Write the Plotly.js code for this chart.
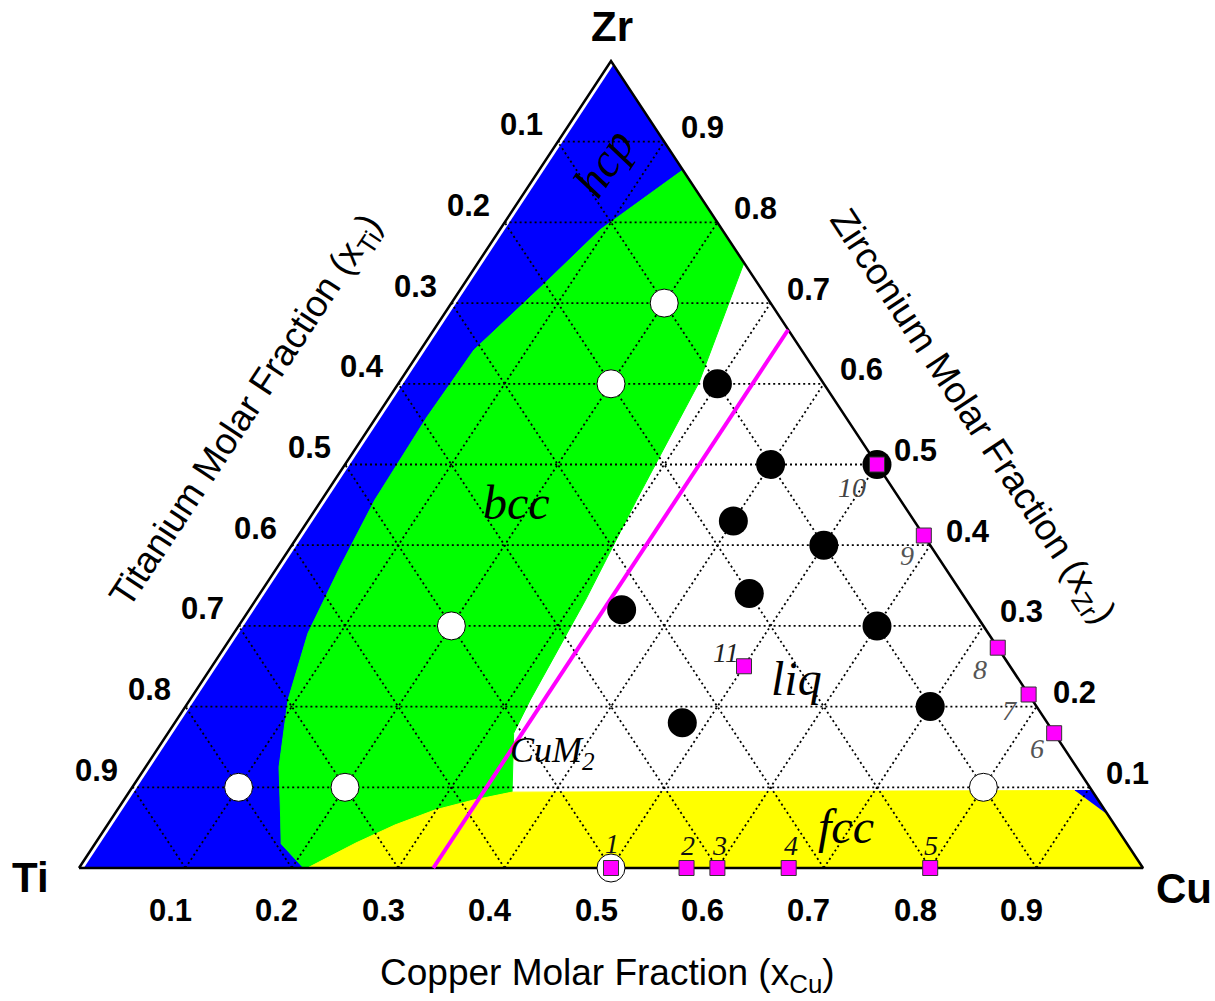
<!DOCTYPE html>
<html>
<head>
<meta charset="utf-8">
<script src="https://cdn.plot.ly/plotly-3.0.1.min.js"></script>
<style>html,body{margin:0;padding:0;background:#fff;}#chart{width:1215px;height:1001px;}</style>
</head>
<body>
<div id="chart"></div>
<script>
// ---- Data (ternary compositions given as molar fractions xCu, xZr; xTi = 1 - xCu - xZr) ----
const tickValues = [0.1, 0.2, 0.3, 0.4, 0.5, 0.6, 0.7, 0.8, 0.9];
const tickText = ['0.1', '0.2', '0.3', '0.4', '0.5', '0.6', '0.7', '0.8', '0.9'];

// hcp / bcc boundary (from Ti-Cu edge up to Cu-Zr edge)
const hcpBccCu = [0.211, 0.175, 0.158, 0.1255, 0.0924, 0.0697, 0.0588, 0.050, 0.0476, 0.0502, 0.0756, 0.0944, 0.135];
const hcpBccZr = [0.000, 0.030, 0.063, 0.125, 0.208, 0.291, 0.373, 0.456, 0.559, 0.642, 0.725, 0.791, 0.865];
// bcc / liquid boundary (from Cu-Zr edge downwards)
const bccLiqCu = [0.250, 0.282, 0.296, 0.310, 0.320, 0.325, 0.360];
const bccLiqZr = [0.750, 0.601, 0.456, 0.332, 0.208, 0.167, 0.094];
// bcc / fcc boundary (from Ti-Cu edge upwards)
const bccFccCu = [0.2147, 0.2448, 0.2703, 0.2986, 0.329, 0.360];
const bccFccZr = [0.000, 0.031, 0.0533, 0.0719, 0.0843, 0.094];
// top of the fcc field
const fccTopCu = [0.600, 0.888];
const fccTopZr = [0.095, 0.096];
// small hcp spot at the Cu-rich corner
const hcpSpotCu = [0.888, 0.904, 0.934];
const hcpSpotZr = [0.096, 0.096, 0.066];
// fcc field lower right end along the Cu-Zr edge
const fccEdgeCu = [0.934, 1.0];
const fccEdgeZr = [0.066, 0.0];
// CuM2 line
const cuM2Cu = [0.333, 0.333];
const cuM2Zr = [0.000, 0.667];

// filled black circles
const blackCu = [0.30, 0.40, 0.50, 0.40, 0.50, 0.46, 0.35, 0.60, 0.477, 0.70];
const blackZr = [0.60, 0.50, 0.50, 0.43, 0.40, 0.34, 0.32, 0.30, 0.18, 0.20];
// open (white) circles
const whiteCu = [0.20, 0.20, 0.20, 0.10, 0.20, 0.80, 0.50];
const whiteZr = [0.70, 0.60, 0.30, 0.10, 0.10, 0.10, 0.00];
// magenta squares (binary / ternary compounds)
const compoundCu = [0.500, 0.571, 0.600, 0.667, 0.800, 0.833, 0.785, 0.727, 0.588, 0.500, 0.500];
const compoundZr = [0.000, 0.000, 0.000, 0.000, 0.000, 0.167, 0.215, 0.273, 0.412, 0.500, 0.250];
const compoundLabels = ['1', '2', '3', '4', '5', '6', '7', '8', '9', '10', '11'];

// ---- projection through the cartesian axes ----
function X(cu, zr) { return cu + zr / 2; }
function xs(cu, zr) { return cu.map((c, i) => c === null ? null : X(c, zr[i])); }
function ys(cu, zr) { return zr.slice(); }

function poly(cu, zr, color) {
  return {type: 'scatter', mode: 'lines', x: xs(cu, zr), y: ys(cu, zr), fill: 'toself',
          fillcolor: color, line: {color: color, width: 1, shape: 'spline', smoothing: 0.6}, hoverinfo: 'skip'};
}
function polyStraight(cu, zr, color) {
  return {type: 'scatter', mode: 'lines', x: xs(cu, zr), y: ys(cu, zr), fill: 'toself',
          fillcolor: color, line: {color: color, width: 1}, hoverinfo: 'skip'};
}

const traces = [];
// hcp
traces.push(polyStraight([0, 0].concat(hcpBccCu, [0]), [1, 0].concat(hcpBccZr, [1]), '#0000ff'));
// bcc
traces.push(polyStraight(hcpBccCu.concat(bccLiqCu, bccFccCu.slice().reverse()),
                 hcpBccZr.concat(bccLiqZr, bccFccZr.slice().reverse()), '#00ff00'));
// fcc
traces.push(polyStraight(bccFccCu.concat(fccTopCu, fccEdgeCu), bccFccZr.concat(fccTopZr, fccEdgeZr), '#ffff00'));
// hcp spot
traces.push(polyStraight(hcpSpotCu, hcpSpotZr, '#0000ff'));

// white strip along the Ti-Zr edge
traces.push({type: 'scatter', mode: 'lines', x: xs([0, 0], [0, 1]), y: [0, 1],
             line: {color: '#ffffff', width: 8}, hoverinfo: 'skip'});

// grid lines
const gCu = [], gZr = [];
tickValues.forEach(v => {
  gCu.push(0, 1 - v, null); gZr.push(v, v, null);          // constant Zr
  gCu.push(v, v, null); gZr.push(0, 1 - v, null);          // constant Cu
  gCu.push(1 - v, 0, null); gZr.push(0, 1 - v, null);      // constant Ti
});
traces.push({type: 'scatter', mode: 'lines', x: xs(gCu, gZr), y: gZr, connectgaps: false,
             line: {color: '#000000', width: 1.8, dash: '2px,3px'}, hoverinfo: 'skip'});

// triangle outline
traces.push({type: 'scatter', mode: 'lines', x: xs([0, 1, 0, 0], [0, 0, 1, 0]), y: [0, 0, 1, 0],
             line: {color: '#000000', width: 2.5}, hoverinfo: 'skip'});

// CuM2 line
traces.push({type: 'scatter', mode: 'lines', x: xs(cuM2Cu, cuM2Zr), y: cuM2Zr,
             line: {color: '#ff00ff', width: 4}, hoverinfo: 'skip'});

// white circles
traces.push({type: 'scatter', mode: 'markers', x: xs(whiteCu, whiteZr), y: whiteZr,
             marker: {symbol: 'circle', size: 28, color: '#ffffff', line: {color: '#000000', width: 1}}, hoverinfo: 'skip'});
// black circles
traces.push({type: 'scatter', mode: 'markers', x: xs(blackCu, blackZr), y: blackZr,
             marker: {symbol: 'circle', size: 29, color: '#000000'}, hoverinfo: 'skip'});
// compounds
traces.push({type: 'scatter', mode: 'markers', x: xs(compoundCu, compoundZr), y: compoundZr,
             marker: {symbol: 'square', size: 15, color: '#ff00ff', line: {color: '#333333', width: 1}}, hoverinfo: 'skip'});

// ---- annotations ----
const ann = [];
const tickFont = {family: 'Liberation Sans, Arial, sans-serif', size: 31, color: '#000'};
function add(a) { a.xanchor = 'center'; a.yanchor = 'middle'; a.showarrow = false; ann.push(a); }
tickValues.forEach((v, i) => {
  // Cu along the bottom
  add({x: v, y: 0, xref: 'x', yref: 'y', text: '<b>' + tickText[i] + '</b>', xshift: -15, yshift: -42, font: tickFont});
  // Ti along the left edge (at the Zr = 1 - v line)
  add({x: X(0, 1 - v), y: 1 - v, xref: 'x', yref: 'y', text: '<b>' + tickText[i] + '</b>', xshift: -36, yshift: 17, font: tickFont});
  // Zr along the right edge
  add({x: X(1 - v, v), y: v, xref: 'x', yref: 'y', text: '<b>' + tickText[i] + '</b>', xshift: 38, yshift: 14, font: tickFont});
});

const vFont = {family: 'Liberation Sans, Arial, sans-serif', size: 42, color: '#000'};
add({x: X(0, 1), y: 1, xref: 'x', yref: 'y', text: '<b>Zr</b>', xshift: 1, yshift: 35, font: vFont});
add({x: X(0, 0), y: 0, xref: 'x', yref: 'y', text: '<b>Ti</b>', xshift: -49, yshift: -9, font: vFont});
add({x: X(1, 0), y: 0, xref: 'x', yref: 'y', text: '<b>Cu</b>', xshift: 41, yshift: -20, font: vFont});

const titleFont = {family: 'Liberation Sans, Arial, sans-serif', size: 37, color: '#000'};
add({x: 0.5, y: 0.026, xref: 'paper', yref: 'paper', text: 'Copper Molar Fraction (x<sub>Cu</sub>)', font: titleFont});
add({x: 0.2033, y: 0.5884, xref: 'paper', yref: 'paper', text: 'Titanium Molar Fraction (x<sub>Ti</sub>)',
     textangle: -56.6, font: titleFont});
add({x: 0.7992, y: 0.5834, xref: 'paper', yref: 'paper', text: 'Zirconium Molar Fraction (x<sub>Zr</sub>)',
     textangle: 56.6, font: titleFont});

// phase labels
const phFont = {family: 'Liberation Serif, Times New Roman, serif', size: 48, color: '#000'};
add({x: X(0.055, 0.8748), y: 0.8748, xref: 'x', yref: 'y', text: '<i>hcp</i>', textangle: -56.6, font: phFont});
add({x: X(0.1846, 0.4523), y: 0.4523, xref: 'x', yref: 'y', text: '<i>bcc</i>', font: phFont});
add({x: X(0.557, 0.2354), y: 0.2354, xref: 'x', yref: 'y', text: '<i>liq</i>', font: phFont});
add({x: X(0.695, 0.052), y: 0.052, xref: 'x', yref: 'y', text: '<i>fcc</i>', font: phFont});
add({x: X(0.3736, 0.1437), y: 0.1437, xref: 'x', yref: 'y', text: '<i>CuM<sub>2</sub></i>',
     font: {family: 'Liberation Serif, Times New Roman, serif', size: 36, color: '#000'}});

// compound numbers
const numShiftX = [1, 1, 2, 2, 1, -17, -19, -18, -17, -25, -18];
const numShiftY = [25, 23, 23, 23, 23, -15, -16, -22, -20, -23, 14];
const numColor = ['#111', '#111', '#111', '#111', '#111', '#555', '#555', '#555', '#555', '#444', '#222'];
compoundLabels.forEach((t, i) => {
  add({x: X(compoundCu[i], compoundZr[i]), y: compoundZr[i], xref: 'x', yref: 'y', text: '<i>' + t + '</i>',
       xshift: numShiftX[i], yshift: numShiftY[i],
       font: {family: 'Liberation Serif, Times New Roman, serif', size: 28, color: numColor[i]}});
});

const layout = {
  width: 1215, height: 1001,
  margin: {l: 0, r: 0, t: 0, b: 0},
  paper_bgcolor: '#ffffff', plot_bgcolor: '#ffffff',
  showlegend: false,
  xaxis: {range: [-79 / 1064, 1136 / 1064], visible: false, fixedrange: true},
  yaxis: {range: [-133 / 807, 868 / 807], visible: false, fixedrange: true},
  annotations: ann
};
Plotly.newPlot('chart', traces, layout, {displayModeBar: false, staticPlot: true});
</script>
</body>
</html>
